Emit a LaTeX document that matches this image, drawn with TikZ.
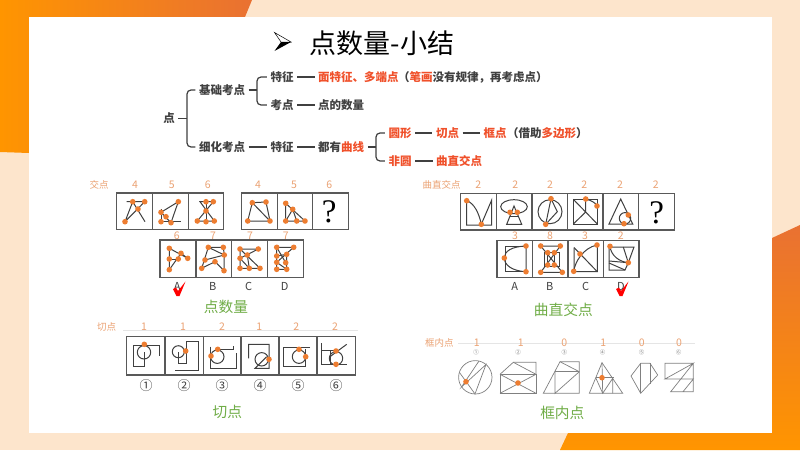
\documentclass[tikz,border=0pt]{standalone}
\usepackage{fontspec}
\setmainfont{Noto Sans CJK SC}
\newfontfamily\queryfont{Liberation Serif}
\usetikzlibrary{arrows,shapes,positioning}
\definecolor{peach}{HTML}{FDE5CC}
\definecolor{deeporange}{HTML}{E97132}
\definecolor{brightorange}{HTML}{FF9500}
\definecolor{maptext}{HTML}{404040}
\definecolor{mapred}{HTML}{F0502A}
\definecolor{numtext}{HTML}{EBA273}
\definecolor{dotfill}{HTML}{ED7D31}
\definecolor{capgreen}{HTML}{70AD47}
\newcommand{\hitpts}[1]{\foreach \p in {#1} \fill [dotfill] \p circle (2.8);}
\begin{document}
\begin{tikzpicture}[x=1pt,y=1pt]
                    \tikzstyle{every node}+=[inner sep=0pt]
                    \tikzstyle{mapnode}=[inner sep=3.5pt,text=maptext,font=\fontsize{11.5}{12}\selectfont\bfseries]
                    \tikzstyle{rednode}=[mapnode,text=mapred]
                    \tikzstyle{maplink}=[maptext,line width=1.2pt]
                    \tikzstyle{mapfork}=[maplink,rounded corners=4pt]
                    \tikzstyle{numlabel}=[text=numtext,font=\fontsize{10.5}{11}\selectfont]
                    \tikzstyle{namelabel}=[text=numtext,font=\fontsize{9.5}{10}\selectfont]
                    \tikzstyle{optlabel}=[text=maptext,font=\fontsize{11}{12}\selectfont]
                    \tikzstyle{caption}=[text=capgreen,font=\fontsize{14.7}{15}\selectfont]
                    \tikzstyle{framebox}=[draw=black!65,line width=1.1pt]
                    \tikzstyle{figline}=[draw=black!75,line width=1pt]
                    \tikzstyle{thinline}=[draw=black!50,line width=0.7pt]
                    \tikzstyle{ruleline}=[draw=black!10,line width=0.7pt]
                    \useasboundingbox (0,0) rectangle (800,-450);
                    % page background
                    \fill [peach] (0,0) rectangle (800,-450);
                    \shade [left color=brightorange,middle color=deeporange!95!brightorange,right color=deeporange] (0,0) -- (252,0) -- (245,-17) -- (29,-17) -- (29,-153) -- (0,-152) -- cycle;
                    \shade [top color=deeporange,middle color=deeporange!95!brightorange,bottom color=brightorange] (772,-238) -- (800,-225) -- (800,-450) -- (560,-450) -- (568,-433) -- (772,-433) -- cycle;
                    \fill [white] (29,-17) rectangle (772,-433);
                    % title
                    \draw [black,line width=0.5pt] (274.5,-32.5) -- (291,-42) -- (281,-42) -- cycle;
                    \fill [black] (274.5,-51) -- (291,-42) -- (281,-42) -- cycle;
                    \node (title) at (382,-43) {\fontsize{27}{30}\selectfont 点数量-小结};
                    % concept map
                    \node [mapnode] (dian) at (169,-118.5) {点};
                    \node [mapnode] (jichu) at (222,-90) {基础考点};
                    \node [mapnode] (xihua) at (222,-147) {细化考点};
                    \node [mapnode] (tezheng) at (282,-77) {特征};
                    \node [mapnode] (kaodian) at (282,-105) {考点};
                    \node [rednode,anchor=west] (mian) at (314.5,-77) {面特征、多端点};
                    \node [mapnode,anchor=west,inner sep=0pt] (biji) at (398,-77) {（{\color{mapred}笔画}没有规律，再考虑点）};
                    \node [mapnode,anchor=west] (shuliang) at (314.5,-105) {点的数量};
                    \node [mapnode] (tezhengb) at (282,-147) {特征};
                    \node [mapnode,anchor=west] (quxian) at (314.5,-147) {都有{\color{mapred}曲线}};
                    \node [rednode] (yuan) at (400,-133) {圆形};
                    \node [rednode] (qie) at (447.5,-133) {切点};
                    \node [rednode] (kuang) at (495,-133) {框点};
                    \node [mapnode,anchor=west,inner sep=0pt] (jiezhu) at (507,-133) {（借助{\color{mapred}多边形}）};
                    \node [rednode] (feiyuan) at (400,-161) {非圆};
                    \node [rednode,anchor=west] (quzhi) at (432.5,-161) {曲直交点};
                    \coordinate (forka) at (187,-118.5);
                    \coordinate (forkb) at (257,-90);
                    \coordinate (forkc) at (376,-147);
                    \draw [maplink] (dian) -- (forka);
                    \draw [mapfork] (jichu.west) -| (forka) |- (xihua.west);
                    \draw [maplink] (jichu) -- (forkb);
                    \draw [mapfork] (tezheng.west) -| (forkb) |- (kaodian.west);
                    \draw [maplink] (quxian) -- (forkc);
                    \draw [mapfork] (yuan.west) -| (forkc) |- (feiyuan.west);
                    \draw [maplink] (tezheng) -- (mian);
                    \draw [maplink] (kaodian) -- (shuliang);
                    \draw [maplink] (xihua) -- (tezhengb);
                    \draw [maplink] (tezhengb) -- (quxian);
                    \draw [maplink] (yuan) -- (qie);
                    \draw [maplink] (qie) -- (kuang);
                    \draw [maplink] (feiyuan) -- (quzhi);
                    % jiaodian panel
                    \node [namelabel] (jdname) at (99,-185) {交点};
                    \foreach \x/\t [count=\i] in {135/4,171.7/5,207.7/6,258/4,294/5,329.3/6}
                        \node [numlabel] (jdtop\i) at (\x,-185) {\t};
                    \foreach \x/\t [count=\i] in {176.7/6,213/7,250/7,285.7/7}
                        \node [numlabel] (jdsub\i) at (\x,-235.5) {\t};
                    \foreach \x/\t [count=\i] in {177.3/A,212.7/B,248.7/C,284.7/D}
                        \node [optlabel] (jdopt\i) at (\x,-286.7) {\t};
                    \foreach \x in {116.7,152.7,188.3,241.7,277.3,312.7}
                        \draw [framebox] (\x,-193) rectangle ++(35.6,-36.3);
                    \foreach \x in {160,196,231.7,267.7}
                        \draw [framebox] (\x,-240) rectangle ++(35.7,-37.3);
                    \draw [figline] (126.7,-201.7) -- (144.7,-201.7) -- (125,-221.7) -- (132.7,-201.7) -- (145,-221.7);
                    \hitpts{(132.7,-201.7),(144.7,-201.7),(138,-209),(125,-221.7)}
                    \draw [figline] (161,-212.3) -- (178.3,-201.7) -- (171,-222.7) -- (161,-212.3);
                    \draw [figline] (161,-209) -- (161,-221.7) -- (180.7,-221.7);
                    \hitpts{(178.3,-201.7),(161,-212.3),(161,-221.7),(166,-216.7),(171,-222.7)}
                    \draw [figline] (197.3,-221) -- (213.3,-201.7) -- (200,-201.7) -- (214.3,-221) -- cycle;
                    \draw [figline] (206,-201.7) -- (206,-221.7);
                    \hitpts{(206,-201.7),(213.3,-201.7),(206,-211),(197.3,-221),(206,-221.7),(214.3,-221)}
                    \draw [figline] (252.3,-202.7) -- (266,-202) -- (270,-221) -- (247.7,-221) -- cycle;
                    \draw [figline] (252.3,-202.7) -- (270,-221);
                    \hitpts{(252.3,-202.7),(266,-202),(247.7,-221),(270,-221)}
                    \draw [figline] (285.7,-203.3) -- (285.7,-221) -- (305,-221) -- cycle;
                    \draw [figline] (285.7,-221) -- (292.7,-209.3) -- (296.7,-221);
                    \hitpts{(285.7,-203.3),(292.7,-209.3),(285.7,-221),(296.7,-221),(305,-221)}
                    \node (jdquery) at (329.3,-211.5) {\fontsize{33}{33}\queryfont ?};
                    \draw [figline] (169.3,-269.7) -- (169.3,-248.3) -- (187.7,-258.3) -- (181,-253.3) -- (169.3,-269.7);
                    \draw [figline] (169.3,-259) -- (178.3,-259);
                    \hitpts{(169.3,-248.3),(169.3,-259),(169.3,-269.7),(178.3,-259),(181,-253.3),(187.7,-258.3)}
                    \draw [figline] (201.7,-268.3) -- (208.3,-247.3) -- (223.3,-247.3) -- (224.3,-255) -- (224,-270.7) -- (215,-261.7) -- cycle;
                    \draw [figline] (208.3,-247.3) -- (224.3,-255) -- (205,-260);
                    \hitpts{(208.3,-247.3),(223.3,-247.3),(224.3,-255),(205,-260),(215,-261.7),(201.7,-268.3),(224,-270.7)}
                    \draw [figline] (258.3,-249) -- (240,-249) -- (240,-268.3) -- (260,-268.3) -- (240,-249);
                    \draw [figline] (258.3,-249) -- (240,-258.3) -- (249.3,-268.3) -- (247.3,-255);
                    \hitpts{(240,-249),(258.3,-249),(247.3,-255),(240,-258.3),(240,-268.3),(249.3,-268.3),(260,-268.3)}
                    \draw [figline] (293.7,-247.3) -- (276.7,-247.3) -- (276.7,-269.3) -- (286.7,-269.3) -- (286.7,-254.3) -- (276.7,-256);
                    \draw [figline] (293.7,-247.3) -- (276.7,-262.3) -- (286.7,-269.3);
                    \draw [figline] (276.7,-247.3) -- (285.7,-262.7);
                    \hitpts{(276.7,-247.3),(293.7,-247.3),(286.7,-254.3),(276.7,-256),(276.7,-262.3),(285.7,-262.7),(276.7,-269.3),(286.7,-269.3)}
                    \fill [red] (173,-289) -- (176,-287.5) -- (178,-291) -- (185.5,-281.5) -- (179.5,-296) -- (176.5,-296) -- cycle;
                    \node [caption] (jdcap) at (226,-307.3) {点数量};
                    % quzhi panel
                    \node [namelabel] (qzname) at (441.7,-185) {曲直交点};
                    \foreach \x [count=\i] in {478.3,515.3,550,584.3,620,655.7}
                        \node [numlabel] (qztop\i) at (\x,-184.5) {2};
                    \foreach \x/\t [count=\i] in {515/3,550/8,585/3,620.7/2}
                        \node [numlabel] (qzsub\i) at (\x,-236) {\t};
                    \foreach \x/\t [count=\i] in {514.7/A,549.7/B,585.7/C,621/D}
                        \node [optlabel] (qzopt\i) at (\x,-286.7) {\t};
                    \foreach \x in {460.7,496.3,532,567.3,603,638.7}
                        \draw [framebox] (\x,-193.3) rectangle ++(35.5,-36.7);
                    \foreach \x in {497,532.7,568,603.7}
                        \draw [framebox] (\x,-240.3) rectangle ++(35.3,-37);
                    \draw [figline] (466.7,-200.7) -- (466.7,-225) -- (491.7,-225) -- (491.7,-200) -- (481.3,-224.3);
                    \draw [figline] (466.7,-200.7) .. controls (474,-203) and (479,-213) .. (481.3,-224.3);
                    \hitpts{(466.7,-200.7),(481.3,-224.3)}
                    \draw [figline] (514,-206.7) ellipse (13.3 and 7);
                    \draw [figline] (514,-206) -- (506.7,-224.3) -- (521.7,-224.3) -- cycle;
                    \draw [figline] (510,-216.7) -- (518,-216.7);
                    \hitpts{(510,-212.3),(517.3,-212.3)}
                    \draw [figline] (550,-211.7) circle (12);
                    \draw [figline] (551,-198.7) -- (545.7,-224.3) -- (557.3,-211.7) -- cycle;
                    \hitpts{(551,-198.7),(545.7,-224.3)}
                    \draw [figline] (573.3,-199.3) rectangle (597.3,-224);
                    \draw [figline] (573.3,-199.3) -- (597.3,-224);
                    \draw [figline] (573.3,-224) -- (585.7,-212) -- (585.7,-199.3);
                    \draw [figline] (585.7,-199.3) .. controls (591,-200) and (596,-203) .. (597,-206);
                    \hitpts{(585.7,-199),(597,-206)}
                    \draw [figline] (620.7,-199) -- (609,-224) -- (632.7,-224) -- cycle;
                    \draw [figline] (625,-218.3) circle (5.7);
                    \hitpts{(628.3,-215),(624,-223.7)}
                    \node (qzquery) at (656.7,-212.5) {\fontsize{33}{33}\queryfont ?};
                    \draw [figline] (526,-246.7) -- (505,-246.7) -- (505,-271.7) -- (526,-271.7);
                    \draw [figline] (526,-246) -- (526,-271.7) .. controls (512,-271) and (504.3,-265) .. (504.3,-258) .. controls (504.3,-251) and (512,-246.5) .. (526,-246);
                    \hitpts{(526,-246),(504.3,-258),(526,-271.7)}
                    \draw [figline] (540.7,-246) -- (560.3,-246) -- (540.7,-272.3) -- (562.3,-272.3) -- cycle;
                    \draw [figline] (544.3,-252.3) rectangle (559,-266);
                    \draw [figline] (547.7,-252.7) -- (547.7,-265);
                    \draw [figline] (554.3,-252.7) -- (554.3,-265);
                    \hitpts{(540.7,-246),(560.3,-246),(547.7,-252.7),(554.3,-252.7),(547.7,-265),(554.3,-265),(540.7,-272.3),(562.3,-272.3)}
                    \draw [figline] (574,-247.5) -- (574,-271.5) -- (597.3,-271.7) -- (597.3,-245);
                    \draw [figline] (574,-247.5) -- (597.3,-271.7);
                    \draw [figline] (573.7,-271.3) .. controls (575,-262) and (583,-248) .. (597,-245);
                    \hitpts{(597,-245),(580,-254),(573.7,-271.3)}
                    \draw [figline] (610,-247) -- (634,-247) -- (628.3,-262.7) -- (625,-270) -- (609,-270) -- (609,-247);
                    \draw [figline] (610,-246.3) .. controls (611,-256) and (620,-262) .. (628.3,-262.7);
                    \draw [figline] (623.3,-247) -- (628.3,-262.7);
                    \draw [figline] (609,-263) -- (625,-270);
                    \draw [figline] (609,-261) -- (628.3,-262.7);
                    \hitpts{(610,-246.3),(628.3,-262.7)}
                    \fill [red] (616,-289) -- (619,-287.5) -- (621,-291) -- (628.5,-281.5) -- (622.5,-296) -- (619.5,-296) -- cycle;
                    \node [caption] (qzcap) at (563.3,-310) {曲直交点};
                    % qiedian panel
                    \draw [ruleline] (123.3,-330.7) -- (358.3,-330.7);
                    \node [namelabel] (qdname) at (106.7,-327) {切点};
                    \foreach \x/\t [count=\i] in {144/1,183/1,222/2,259.3/1,296.3/2,335/2}
                        \node [numlabel] (qdtop\i) at (\x,-326.7) {\t};
                    \foreach \x/\t [count=\i] in {146/①,184/②,222/③,260/④,298/⑤,336/⑥}
                        \node [optlabel,font=\fontsize{13}{14}\selectfont] (qdopt\i) at (\x,-385.7) {\t};
                    \foreach \x in {126.7,165,203.3,241,279,317}
                        \draw [framebox] (\x,-336.7) rectangle ++(38.2,-38.3);
                    \draw [figline] (144,-352.3) circle (6.7);
                    \draw [figline] (159.3,-355.7) -- (159.3,-345) -- (133.3,-345) -- (133.3,-366.7) -- (144,-366.7) -- (144,-352.3);
                    \hitpts{(144.3,-344.3)}
                    \draw [figline] (178.3,-351.7) circle (6);
                    \draw [figline] (186,-341.7) -- (198.3,-341.7) -- (198.3,-370) -- (175,-370);
                    \draw [figline] (186,-341.7) -- (186,-363.3) -- (178.3,-363.3) -- (178.3,-351.7);
                    \hitpts{(185.7,-351)}
                    \draw [figline] (217.3,-356.7) circle (6.7);
                    \draw [figline] (210,-346.7) -- (210,-368.3) -- (236,-368.3) -- (236,-353.3);
                    \draw [figline] (217.7,-349.3) -- (233.3,-349.3) -- (233.3,-345.7);
                    \hitpts{(217.7,-349.3),(211,-356)}
                    \draw [figline] (261.7,-359.3) circle (6.7);
                    \draw [figline] (248.7,-358.3) -- (248.7,-344.3) -- (269,-344.3) -- (269,-368.3) -- (255,-368.3) -- (266.7,-356.7);
                    \hitpts{(269,-359.3)}
                    \draw [figline] (299,-356.7) circle (6.7);
                    \draw [figline] (310,-347.3) -- (283.3,-347.3) -- (283.3,-366.7) -- (305,-366.7) -- (305,-349);
                    \hitpts{(299,-349.3),(305.7,-356.7)}
                    \draw [figline] (336,-358.3) circle (6.7);
                    \draw [figline] (321.7,-343.3) -- (321.7,-364.3) -- (346.7,-364.3);
                    \draw [figline] (321.7,-350) -- (336,-350);
                    \draw [figline] (330,-356.7) -- (346.7,-344.3);
                    \draw [figline] (330,-364.3) -- (330,-350);
                    \hitpts{(336,-351),(336,-364.3)}
                    \node [caption] (qdcap) at (227.3,-411.7) {切点};
                    % kuangnei panel
                    \draw [ruleline] (458.3,-343.3) -- (695,-343.3);
                    \node [namelabel] (knname) at (439.3,-343) {框内点};
                    \foreach \x/\t [count=\i] in {476.7/1,520.7/1,564.3/0,603.3/1,641.7/0,679/0}
                        \node [numlabel] (kntop\i) at (\x,-342.3) {\t};
                    \foreach \x/\t [count=\i] in {476/①,518/②,564.3/③,602.7/④,641.7/⑤,678.7/⑥}
                        \node [text=black!55,font=\fontsize{5.5}{6}\selectfont] (knopt\i) at (\x,-352.7) {\t};
                    \draw [thinline] (475.3,-377.3) circle (16.7);
                    \draw [thinline] (459.5,-372.5) -- (475,-393.9) -- (486,-364.5) -- (461.5,-387) -- (479,-361);
                    \hitpts{(466,-381.7)}
                    \draw [thinline] (500,-374.3) rectangle (536,-393.3);
                    \draw [thinline] (500,-374.3) -- (513.3,-362.3) -- (536,-362.3) -- (536,-374.3);
                    \draw [thinline] (513.3,-362.3) -- (536,-374.3);
                    \draw [thinline] (500,-374.3) -- (536,-393.3);
                    \draw [thinline] (500,-393.3) -- (536,-374.3);
                    \hitpts{(518,-383)}
                    \draw [thinline] (543.3,-393.3) -- (560,-361.7) -- (579.3,-361.7) -- (579.3,-393.3) -- cycle;
                    \draw [thinline] (555,-371.7) -- (579.3,-371.7);
                    \draw [thinline] (555,-371.7) -- (555,-393.3) -- (579.3,-371.7);
                    \draw [thinline] (560,-361.7) -- (579.3,-371.7);
                    \draw [thinline] (602,-362.7) -- (589.3,-393.3) -- (622.7,-393.3) -- cycle;
                    \draw [thinline] (595.7,-377.7) -- (614,-377.7);
                    \draw [thinline] (602,-362.7) -- (602.7,-393.3);
                    \draw [thinline] (595.7,-377.7) -- (602.7,-393.3) -- (612.7,-378.3) -- (612.7,-393.3);
                    \hitpts{(602,-377.7)}
                    \draw [thinline] (640.7,-363.3) -- (650,-363.3) -- (657.7,-375) -- (640.7,-393.3) -- (631,-376) -- cycle;
                    \draw [thinline] (640.7,-363.3) -- (640.7,-393.3);
                    \draw [thinline] (650,-363.3) -- (650,-384.3);
                    \draw [thinline] (665,-379) -- (665,-363.3) -- (693.3,-363.3) -- (693.3,-391.7) -- (670.7,-391.7) -- (693.3,-363.3) -- (665,-379) -- (693.3,-379) -- (683,-391.7);
                    \node [caption] (kncap) at (562.3,-413.3) {框内点};
\end{tikzpicture}
\end{document}
